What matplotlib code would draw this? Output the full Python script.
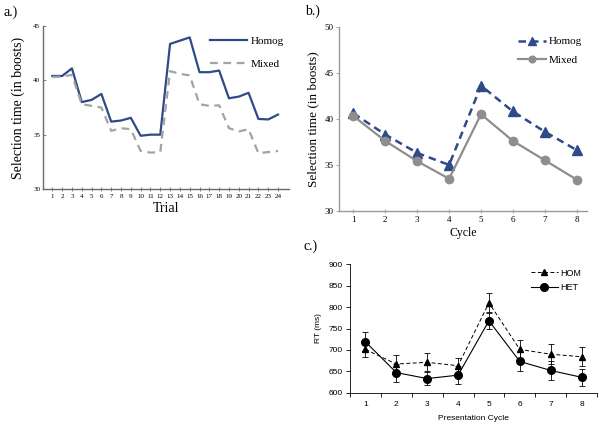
import matplotlib
matplotlib.use("Agg", force=True)
import matplotlib.pyplot as plt
from matplotlib.lines import Line2D
import numpy as np

# ---- data -------------------------------------------------------------
trials = np.arange(1, 25)
homog_trial = [40.4, 40.4, 41.1, 38.0, 38.2, 38.75, 36.2, 36.3, 36.55, 34.9, 35.0, 35.0,
               43.35, 43.65, 43.95, 40.75, 40.75, 40.9, 38.35, 38.5, 38.85, 36.45, 36.4, 36.85]
mixed_trial = [40.3, 40.35, 40.5, 37.8, 37.65, 37.5, 35.35, 35.6, 35.5, 33.5, 33.35, 33.4,
               40.85, 40.6, 40.45, 37.8, 37.65, 37.7, 35.6, 35.3, 35.5, 33.3, 33.4, 33.5]

cycles = np.arange(1, 9)
homog_cycle = [40.6, 38.3, 36.3, 35.0, 43.6, 40.8, 38.6, 36.6]
mixed_cycle = [40.3, 37.6, 35.4, 33.5, 40.5, 37.6, 35.5, 33.4]

hom_rt = [701, 667, 671, 663, 810, 701, 690, 684]
hom_err = [17, 20, 21, 19, 22, 22, 24, 22]
het_rt = [719, 647, 633, 641, 768, 673, 652, 636]
het_err = [22, 21, 15, 21, 19, 22, 22, 20]

NAVY = "#2f4a88"
GRAY_A = "#a3a3a3"
GRAY_B = "#8e8e8e"
SERIF = "Liberation Serif"
SANS = "Liberation Sans"

fig = plt.figure(figsize=(6.01, 4.29), dpi=100)


def frac(x0, y0, x1, y1):
    # pixel box -> figure fraction
    W, H = 601.0, 429.0
    return [x0 / W, 1 - y1 / H, (x1 - x0) / W, (y1 - y0) / H]


# ---- panel a ---------------------------------------------------------
ax = fig.add_axes(frac(43, 26, 289.3, 189))
ax.plot(trials, homog_trial, color=NAVY, lw=1.6, label="Homog")
ax.plot(trials, mixed_trial, color=GRAY_A, lw=1.6, ls=(0, (3.5, 2.5)), label="Mixed")
ax.set_xlim(0.05, 25.15)
ax.set_ylim(30, 45)
ax.set_xticks(trials)
ax.set_yticks([30, 35, 40, 45])
for s in ["top", "right"]:
    ax.spines[s].set_visible(False)
for s in ["left", "bottom"]:
    ax.spines[s].set_color("#6a6a6a")
    ax.spines[s].set_linewidth(1.0)
ax.tick_params(axis="x", direction="inout", length=3, width=0.6, color="#6a6a6a",
               labelsize=5, pad=2)
ax.tick_params(axis="y", direction="in", length=2, width=0.6, color="#6a6a6a",
               labelsize=5, pad=2)
for lab in ax.get_xticklabels() + ax.get_yticklabels():
    lab.set_family(SERIF)
ax.set_xlabel("Trial", fontsize=10, family=SERIF, labelpad=2)
ax.set_ylabel("Selection time (in boosts)", fontsize=10, family=SERIF, labelpad=6)
ax.legend(loc="upper right", bbox_to_anchor=(1.02, 1.0), frameon=False,
          prop={"family": SERIF, "size": 8}, handlelength=3.3, labelspacing=1.2,
          handletextpad=0.4)
fig.text(3 / 601, 1 - 12 / 429, "a.)", fontsize=10, family=SERIF, va="center")

# ---- panel b ---------------------------------------------------------
ax = fig.add_axes(frac(339, 26.7, 587, 211))
ax.plot(cycles, homog_cycle, color=NAVY, lw=1.8, ls=(0, (3, 2)), marker="^",
        ms=6.5, label="Homog")
ax.plot(cycles, mixed_cycle, color=GRAY_B, lw=1.6, marker="o", ms=6, label="Mixed")
ax.set_xlim(0.55, 8.32)
ax.set_ylim(30, 50)
ax.set_xticks(cycles)
ax.set_yticks([30, 35, 40, 45, 50])
for s in ["top", "right"]:
    ax.spines[s].set_visible(False)
for s in ["left", "bottom"]:
    ax.spines[s].set_color("#9a9a9a")
    ax.spines[s].set_linewidth(1.0)
ax.tick_params(axis="x", direction="inout", length=3, width=0.6, color="#9a9a9a",
               labelsize=6.5, pad=2)
ax.tick_params(axis="y", direction="out", length=2, width=0.6, color="#9a9a9a",
               labelsize=6.5, pad=2)
for lab in ax.get_xticklabels() + ax.get_yticklabels():
    lab.set_family(SERIF)
ax.set_xlabel("Cycle", fontsize=8.5, family=SERIF, labelpad=2)
ax.set_ylabel("Selection time (in boosts)", fontsize=9.5, family=SERIF, labelpad=4)
ax.legend(loc="upper right", bbox_to_anchor=(1.02, 1.0), frameon=False,
          prop={"family": SERIF, "size": 8}, handlelength=2.6, labelspacing=0.8,
          handletextpad=0.2, markerscale=0.8)
fig.text(305 / 601, 1 - 11 / 429, "b.)", fontsize=10, family=SERIF, va="center")

# ---- panel c ---------------------------------------------------------
ax = fig.add_axes(frac(350, 264.3, 597, 392.7))
ax.errorbar(cycles, hom_rt, yerr=hom_err, color="black", lw=0.7, ls=(0, (4, 2.5)),
            marker="^", ms=4.5, capsize=2, elinewidth=0.6, capthick=0.6)
ax.errorbar(cycles, het_rt, yerr=het_err, color="black", lw=0.8, marker="o", ms=5.5,
            capsize=2, elinewidth=0.6, capthick=0.6)
ax.set_xlim(0.5, 8.5)
ax.set_ylim(600, 900)
ax.set_yticks(np.arange(600, 901, 50))
ax.set_xticks(cycles)
ax.set_xticks(np.arange(0.5, 8.6, 1), minor=True)
for s in ["top", "right"]:
    ax.spines[s].set_visible(False)
for s in ["left", "bottom"]:
    ax.spines[s].set_linewidth(0.6)
ax.tick_params(axis="x", which="major", length=0, labelsize=6, pad=6)
ax.tick_params(axis="x", which="minor", direction="out", length=3, width=0.6)
ax.tick_params(axis="y", direction="out", length=3, width=0.6, labelsize=6, pad=2)
for lab in ax.get_xticklabels() + ax.get_yticklabels():
    lab.set_family(SANS)
ax.set_xlabel("Presentation Cycle", fontsize=6, family=SANS, labelpad=5)
ax.set_ylabel("RT (ms)", fontsize=6, family=SANS, labelpad=5)
handles = [
    Line2D([], [], color="black", lw=0.7, ls=(0, (4, 2.5)), marker="^", ms=4.5),
    Line2D([], [], color="black", lw=0.8, marker="o", ms=5.5),
]
ax.legend(handles, ["HOM", "HET"], loc="upper right", bbox_to_anchor=(0.97, 1.03),
          frameon=False, prop={"family": SANS, "size": 6.5}, handlelength=3.0,
          labelspacing=0.6, handletextpad=0.3)
fig.text(304 / 601, 1 - 246 / 429, "c.)", fontsize=10, family=SERIF, va="center")

fig.savefig("out.png", dpi=100)
